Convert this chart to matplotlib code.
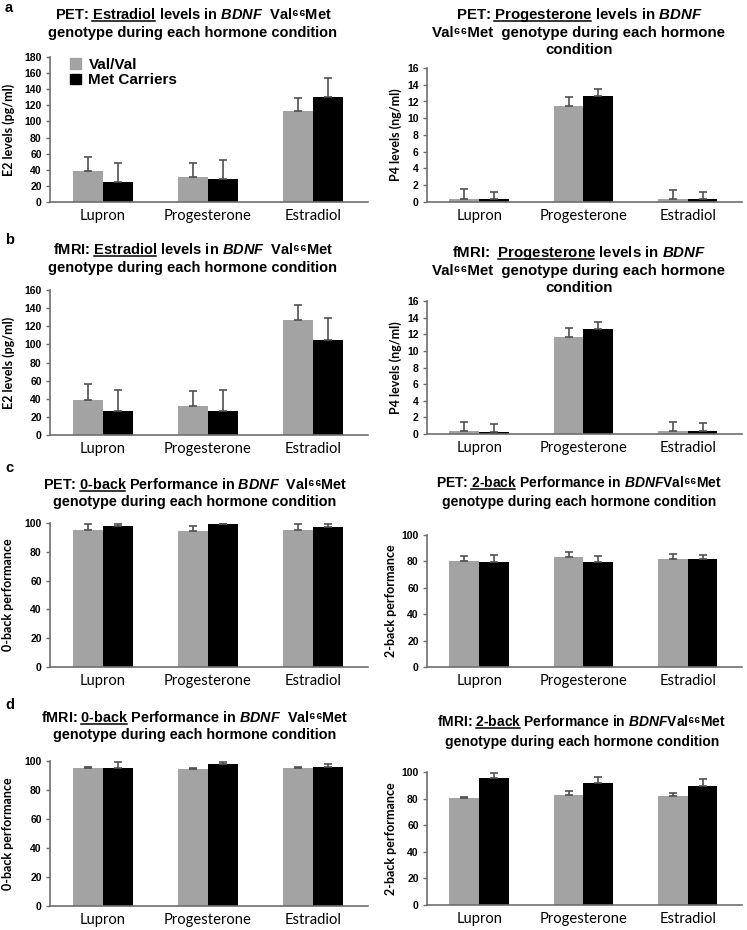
import matplotlib
matplotlib.use("Agg")
import matplotlib.pyplot as plt
import numpy as np
from matplotlib.patches import Patch
from matplotlib.lines import Line2D

plt.rcParams['font.family'] = ['Liberation Sans', 'DejaVu Sans']
plt.rcParams['mathtext.fontset'] = 'custom'
plt.rcParams['mathtext.rm'] = 'Liberation Sans:bold'
plt.rcParams['mathtext.bf'] = 'Liberation Sans:bold'
plt.rcParams['mathtext.it'] = 'Liberation Sans:italic:bold'
plt.rcParams['mathtext.sf'] = 'Liberation Sans:bold'
plt.rcParams['mathtext.default'] = 'rm'

categories = ["Lupron", "Progesterone", "Estradiol"]
series_names = ["Val/Val", "Met Carriers"]

# a left: PET estradiol (pg/ml)
pet_e2_val = [39, 31, 113]
pet_e2_val_err = [17, 17, 16]
pet_e2_met = [25, 29, 130]
pet_e2_met_err = [24, 23, 24]
# a right: PET progesterone (ng/ml)
pet_p4_val = [0.4, 11.5, 0.3]
pet_p4_val_err = [1.1, 1.0, 1.1]
pet_p4_met = [0.3, 12.6, 0.3]
pet_p4_met_err = [0.9, 0.9, 0.9]
# b left: fMRI estradiol
fmri_e2_val = [39, 32, 127]
fmri_e2_val_err = [17, 16, 16]
fmri_e2_met = [26, 27, 105]
fmri_e2_met_err = [24, 23, 24]
# b right: fMRI progesterone
fmri_p4_val = [0.4, 11.7, 0.4]
fmri_p4_val_err = [1.1, 1.1, 1.1]
fmri_p4_met = [0.3, 12.6, 0.4]
fmri_p4_met_err = [0.9, 0.9, 0.9]
# c left: PET 0-back
pet_0b_val = [95, 94.5, 95]
pet_0b_val_err = [4, 3.5, 4]
pet_0b_met = [98, 99, 97]
pet_0b_met_err = [1, 0.5, 2]
# c right: PET 2-back
pet_2b_val = [80.5, 83.5, 82]
pet_2b_val_err = [3.5, 4, 3.5]
pet_2b_met = [79.5, 79.5, 82]
pet_2b_met_err = [5.5, 4.5, 3]
# d left: fMRI 0-back
fmri_0b_val = [95.5, 94.5, 95.5]
fmri_0b_val_err = [0.5, 1, 0.5]
fmri_0b_met = [95.5, 98, 96]
fmri_0b_met_err = [3.5, 1.5, 2]
# d right: fMRI 2-back
fmri_2b_val = [80.5, 83, 82]
fmri_2b_val_err = [0.5, 2.5, 2.5]
fmri_2b_met = [95.5, 91.5, 89.5]
fmri_2b_met_err = [3.5, 4.5, 5]

GRAY = '#a3a3a3'
BLACK = '#000000'
AXC = '#6e6e6e'

W, H = 747, 930
fig = plt.figure(figsize=(W / 100, H / 100), dpi=100)
renderer = fig.canvas.get_renderer()


def ax_px(x0, x1, ytop, ybot):
    return fig.add_axes([x0 / W, 1 - ybot / H, (x1 - x0) / W, (ybot - ytop) / H])


def draw(ax, val, val_err, met, met_err, ymax, ystep, ylabel, labx):
    x = np.arange(len(categories))
    bw = 0.285
    ax.bar(x - bw / 2, val, bw, color=GRAY, zorder=2)
    ax.bar(x + bw / 2, met, bw, color=BLACK, zorder=2)
    ax.errorbar(x - bw / 2, val, yerr=[np.zeros(3), val_err], fmt='none',
                ecolor='#505050', elinewidth=1.2, capsize=3, capthick=1.2, zorder=3)
    ax.errorbar(x + bw / 2, met, yerr=[np.zeros(3), met_err], fmt='none',
                ecolor='#505050', elinewidth=1.2, capsize=3, capthick=1.2, zorder=3)
    ax.set_xlim(-0.5, 2.52)
    ax.set_ylim(0, ymax)
    ax.set_yticks(np.arange(0, ymax + 0.01, ystep))
    ax.set_xticks(x)
    ax.set_xticklabels(categories, fontfamily='Lato', fontsize=10.6)
    ax.tick_params(axis='x', length=0, pad=5)
    ax.tick_params(axis='y', length=3, width=1, color=AXC, labelsize=7.5, pad=3)
    for lab in ax.get_yticklabels():
        lab.set_fontweight('bold')
    for s in ['top', 'right']:
        ax.spines[s].set_visible(False)
    for s in ['left', 'bottom']:
        ax.spines[s].set_color(AXC)
        ax.spines[s].set_linewidth(1.2)
    ax.set_ylabel(ylabel, fontfamily='Lato', fontweight='bold', fontsize=9)
    ax.yaxis.set_label_coords(labx, 0.5)


def text_w(s, size):
    t = fig.text(0, 0, s, fontsize=size, fontweight='bold')
    bb = t.get_window_extent(renderer)
    t.remove()
    return bb.width


MARK = r'$\mathrm{I}$'


def rich_line(xc, yb, prefix, uword, suffix, size):
    """Draw one centred title line; underline uword. yb = baseline px from top."""
    full = prefix + uword + suffix
    wf = text_w(full, size)
    x0 = xc - wf / 2
    fig.text(xc / W, 1 - yb / H, full, ha='center', va='baseline',
             fontsize=size, fontweight='bold')
    if uword:
        wm = text_w(MARK, size)
        start = x0 + text_w(prefix + MARK, size) - wm
        end = x0 + text_w(prefix + uword + MARK, size) - wm
        yl = 1 - (yb + 2) / H
        fig.add_artist(Line2D([start / W, end / W], [yl, yl], color='black', lw=1.1,
                              transform=fig.transFigure))


def title(xc, ys, lines, size=10.3):
    for y, ln in zip(ys, lines):
        if isinstance(ln, str):
            rich_line(xc, y + 4, ln, '', '', size)
        else:
            rich_line(xc, y + 4, ln[0], ln[1], ln[2], size)


VM = 'Val\u2076\u2076Met'
BD = r'$\mathit{BDNF}$'
G = 'genotype during each hormone condition'

# panel a
ax = ax_px(50, 368, 57, 202)
draw(ax, pet_e2_val, pet_e2_val_err, pet_e2_met, pet_e2_met_err, 180, 20,
     'E2 levels (pg/ml)', -0.11)
ax.legend(handles=[Patch(color=GRAY), Patch(color=BLACK)], labels=series_names,
          loc='upper left', bbox_to_anchor=(0.02, 1.09), frameon=False,
          prop={'family': 'Liberation Sans', 'weight': 'bold', 'size': 11},
          handlelength=0.7, handleheight=0.7, handletextpad=0.5, labelspacing=0.1)
title(193, [15, 33], [('PET: ', 'Estradiol', ' levels in ' + BD + '  ' + VM), G], size=10.5)

ax = ax_px(427, 742, 68, 202)
draw(ax, pet_p4_val, pet_p4_val_err, pet_p4_met, pet_p4_met_err, 16, 2,
     'P4 levels (ng/ml)', -0.079)
title(579, [15, 33, 50], [('PET: ', 'Progesterone', ' levels in ' + BD),
                          VM + '  genotype during each hormone', 'condition'], size=10.8)

# panel b
ax = ax_px(50, 368, 290, 435)
draw(ax, fmri_e2_val, fmri_e2_val_err, fmri_e2_met, fmri_e2_met_err, 160, 20,
     'E2 levels (pg/ml)', -0.11)
title(193, [250, 268], [('fMRI: ', 'Estradiol', ' levels in ' + BD + '  ' + VM), G], size=10.5)

ax = ax_px(427, 742, 301, 434)
draw(ax, fmri_p4_val, fmri_p4_val_err, fmri_p4_met, fmri_p4_met_err, 16, 2,
     'P4 levels (ng/ml)', -0.079)
title(579, [253, 271, 288], [('fMRI:  ', 'Progesterone', ' levels in ' + BD),
                             VM + '  genotype during each hormone', 'condition'], size=10.8)

# panel c
ax = ax_px(50, 368, 523, 667)
draw(ax, pet_0b_val, pet_0b_val_err, pet_0b_met, pet_0b_met_err, 100, 20,
     '0-back performance', -0.113)
title(195, [485, 502], [('PET: ', '0-back', ' Performance in ' + BD + '  ' + VM), G], size=10.4)

ax = ax_px(427, 742, 535, 667)
draw(ax, pet_2b_val, pet_2b_val_err, pet_2b_met, pet_2b_met_err, 100, 20,
     '2-back performance', -0.095)
title(579, [483, 502], [('PET: ', '2-back', ' Performance in ' + BD + VM), G], size=10.0)

# panel d
ax = ax_px(50, 368, 761, 906)
draw(ax, fmri_0b_val, fmri_0b_val_err, fmri_0b_met, fmri_0b_met_err, 100, 20,
     '0-back performance', -0.113)
title(195, [718, 735], [('fMRI: ', '0-back', ' Performance in ' + BD + '  ' + VM), G], size=10.4)

ax = ax_px(427, 742, 772, 905)
draw(ax, fmri_2b_val, fmri_2b_val_err, fmri_2b_met, fmri_2b_met_err, 100, 20,
     '2-back performance', -0.095)
title(582, [722, 742], [('fMRI: ', '2-back', ' Performance in ' + BD + VM), G], size=10.0)

for letter, y in [('a', 8), ('b', 240), ('c', 468), ('d', 705)]:
    fig.text(5 / W, 1 - y / H, letter, fontsize=10.5, fontweight='bold',
             ha='left', va='center')

fig.savefig('out.png', dpi=100)
